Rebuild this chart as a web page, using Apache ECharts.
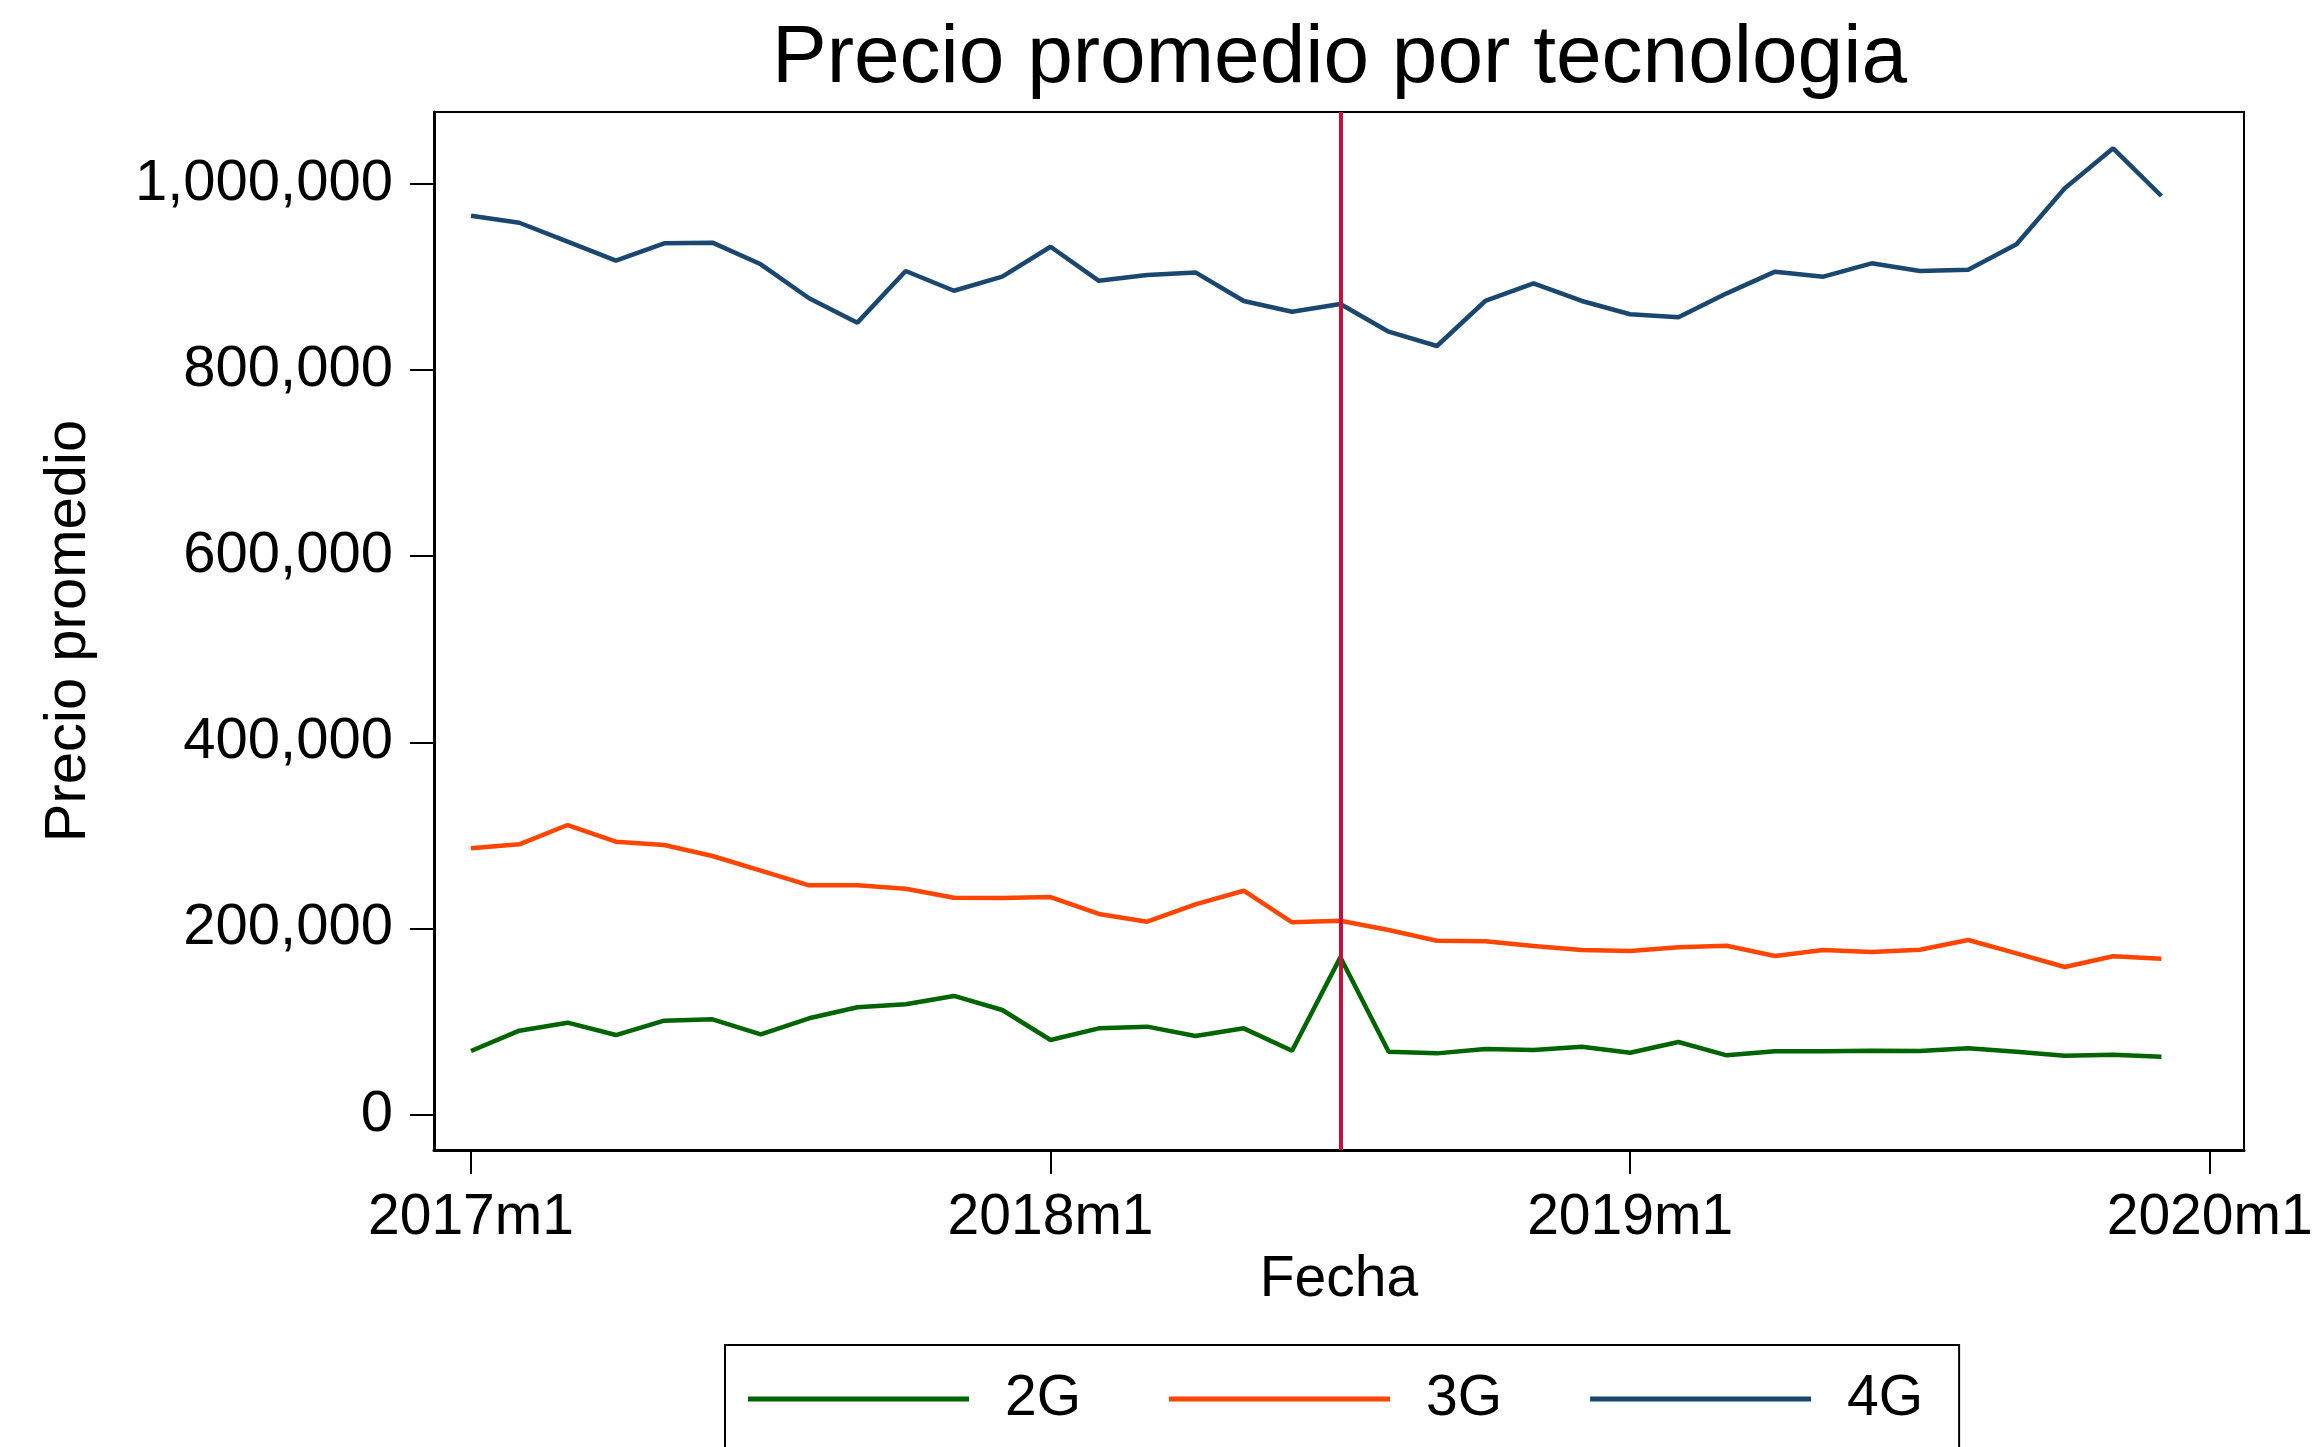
<!DOCTYPE html>
<html>
<head>
<meta charset="utf-8">
<title>Precio promedio por tecnologia</title>
<script src="https://cdn.jsdelivr.net/npm/echarts@6/dist/echarts.min.js"></script>
<style>
  html, body { margin: 0; padding: 0; background: #fff; }
  #chart { width: 2321px; height: 1447px; }
</style>
</head>
<body>
<div id="chart"></div>
<script>
// Monthly index: 0 = 2017m1 ... 35 = 2019m12
const months = Array.from({ length: 36 }, (_, i) => i);

const precio2G = [
  68200, 90100, 98700, 85400, 100800, 102300, 86200, 103400, 115200, 118400, 127400, 112300,
  80100, 92600, 94400, 84400, 92600, 68600, 168900, 67500, 65700, 70400, 69300, 72900,
  66400, 77900, 63600, 67900, 67900, 68600, 68200, 71100, 67500, 63200, 64300, 62100
];
const precio3G = [
  286100, 290400, 311100, 293200, 289600, 277800, 262000, 246300, 246300, 242700, 233000, 232700,
  233700, 215500, 207200, 225900, 240500, 206500, 208300, 198300, 186800, 186100, 181100, 176800,
  175700, 179700, 181400, 170300, 176800, 174600, 177100, 187500, 173200, 158500, 170000, 167500
];
const precio4G = [
  966000, 958400, 938000, 917600, 936300, 937000, 913700, 877200, 851000, 906500, 885300, 900400,
  932600, 896000, 902200, 905000, 874300, 862800, 871000, 841300, 825900, 874300, 893300, 874300,
  860000, 856700, 882500, 905800, 900400, 914800, 906500, 907900, 935200, 995400, 1038400, 987100
];

const seriesNames = ['2G', '3G', '4G'];
const xTickValues = [0, 12, 24, 36];
const xTickLabels = ['2017m1', '2018m1', '2019m1', '2020m1'];
const yTickValues = [0, 200000, 400000, 600000, 800000, 1000000];
const cutoffMonth = 18; // 2018m7

const colors = ['#006400', '#FF4500', '#1A476F'];
const font = '"Liberation Sans", Arial, Helvetica, sans-serif';

const toPairs = (vals) => months.map((m, i) => [m, vals[i]]);

const chart = echarts.init(document.getElementById('chart'), null, { renderer: 'canvas' });

const lineSeries = [precio2G, precio3G, precio4G].map((vals, i) => ({
  name: seriesNames[i],
  type: 'line',
  data: toPairs(vals),
  showSymbol: false,
  symbol: 'none',
  smooth: false,
  z: 3,
  lineStyle: { color: colors[i], width: 4.5 },
  itemStyle: { color: colors[i] },
  animation: false
}));

chart.setOption({
  animation: false,
  backgroundColor: '#fff',
  textStyle: { fontFamily: font },
  title: {
    text: 'Precio promedio por tecnologia',
    left: 772,
    top: 18,
    padding: 0,
    textStyle: { fontFamily: font, fontSize: 82, fontWeight: 'normal', color: '#000' }
  },
  grid: {
    left: 434,
    right: 77,
    top: 112,
    bottom: 297,
    show: true,
    borderColor: '#000',
    borderWidth: 2,
    backgroundColor: '#fff'
  },
  legend: {
    data: seriesNames,
    left: 725,
    top: 1345,
    orient: 'horizontal',
    icon: 'rect',
    itemWidth: 221,
    itemHeight: 5,
    itemGap: 88,
    padding: [24, 36, 24, 23],
    borderColor: '#000',
    borderWidth: 2,
    backgroundColor: '#fff',
    textStyle: {
      fontFamily: font,
      fontSize: 57,
      color: '#000',
      padding: [0, 0, 0, 31],
      lineHeight: 60
    }
  },
  xAxis: {
    type: 'value',
    min: -0.766,
    max: 36.71,
    name: 'Fecha',
    nameLocation: 'middle',
    nameGap: 99,
    nameTextStyle: { fontFamily: font, fontSize: 57, color: '#000' },
    axisLine: { show: true, onZero: false, lineStyle: { color: '#000', width: 3 } },
    axisTick: { show: true, length: 24, lineStyle: { color: '#000', width: 2 }, customValues: xTickValues },
    axisLabel: {
      margin: 40,
      fontFamily: font,
      fontSize: 57,
      color: '#000',
      customValues: xTickValues,
      formatter: (v) => xTickLabels[xTickValues.indexOf(v)] || ''
    },
    splitLine: { show: false }
  },
  yAxis: {
    type: 'value',
    min: -38150,
    max: 1077400,
    name: 'Precio promedio',
    nameLocation: 'middle',
    nameGap: 336,
    nameTextStyle: { fontFamily: font, fontSize: 58, color: '#000' },
    axisLine: { show: true, onZero: false, lineStyle: { color: '#000', width: 3 } },
    axisTick: { show: true, length: 24, lineStyle: { color: '#000', width: 2 }, customValues: yTickValues },
    axisLabel: {
      margin: 41,
      fontFamily: font,
      fontSize: 58,
      color: '#000',
      customValues: yTickValues,
      formatter: (v) => v.toLocaleString('en-US')
    },
    splitLine: { show: false }
  },
  series: [
    {
      name: 'corte',
      type: 'line',
      data: [],
      z: 2,
      markLine: {
        silent: true,
        symbol: ['none', 'none'],
        label: { show: false },
        lineStyle: { color: '#C8103E', width: 4, type: 'solid' },
        data: [{ xAxis: cutoffMonth }],
        animation: false
      }
    },
    ...lineSeries
  ]
});
</script>
</body>
</html>
